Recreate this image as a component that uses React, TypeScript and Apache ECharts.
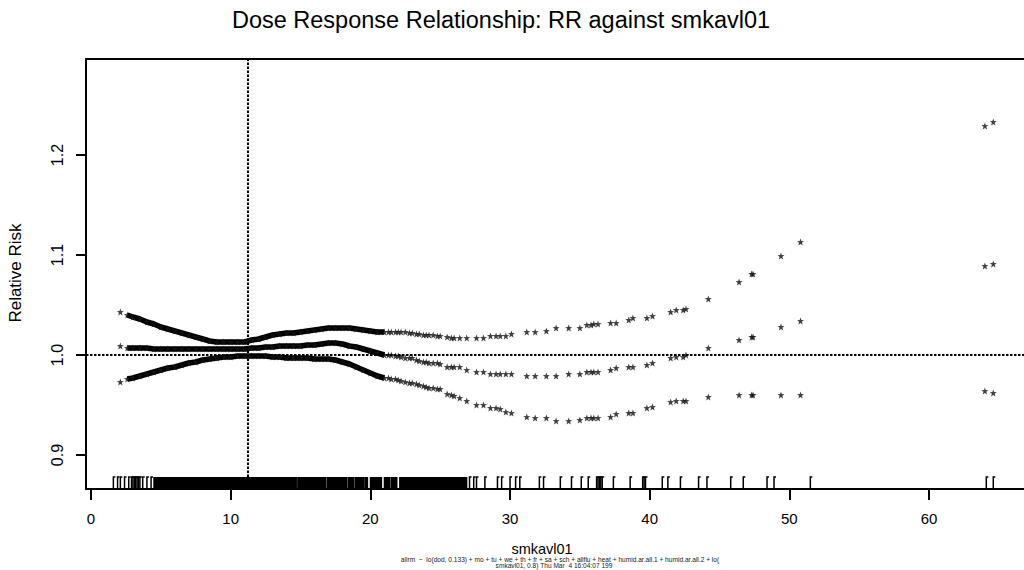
import React, { useEffect, useRef } from "react";
import * as echarts from "echarts";

const TITLE = "Dose Response Relationship: RR against smkavl01";
const X_NAME = "smkavl01";
const Y_NAME = "Relative Risk";
const FOOT1 = "allrm  ~  lo(dod, 0.133) + mo + tu + we + th + fr + sa + sch + allflu + heat + humid.ar.all.1 + humid.ar.all.2 + lo(";
const FOOT2 = "smkavl01, 0.8) Thu Mar  4 16:04:07 199";

const xTicks = [0, 10, 20, 30, 40, 50, 60];
const yTicks = [0.9, 1.0, 1.1, 1.2];
const refX = 11.24;
const refY = 1.0;

const pointX = [2.1, 2.6, 3.0, 3.5, 4.0, 4.5, 5.0, 5.5, 6.0, 6.5, 7.0, 7.5, 8.0, 8.5, 9.0, 9.5, 10.0, 10.5, 11.0, 11.5, 12.0, 12.5, 13.0, 13.5, 14.0, 14.5, 15.0, 15.5, 16.0, 16.5, 17.0, 17.5, 18.0, 18.5, 19.0, 19.5, 20.0, 20.5, 21.0, 21.3, 21.5, 21.8, 22.0, 22.2, 22.5, 22.8, 23.0, 23.3, 23.5, 23.8, 24.0, 24.2, 24.5, 24.8, 25.0, 25.5, 25.8, 26.0, 26.4, 26.9, 27.6, 28.1, 28.6, 29.0, 29.3, 29.7, 30.1, 31.2, 31.8, 32.6, 33.3, 34.2, 35.0, 35.5, 35.8, 36.0, 36.3, 37.2, 37.6, 38.5, 38.8, 39.8, 40.2, 41.5, 41.9, 42.4, 42.6, 44.2, 46.4, 47.3, 47.4, 49.4, 50.8, 64.0, 64.6];

const upperRR = [1.043, 1.040, 1.038, 1.036, 1.033, 1.031, 1.028, 1.026, 1.024, 1.022, 1.020, 1.018, 1.016, 1.014, 1.013, 1.013, 1.013, 1.013, 1.013, 1.015, 1.016, 1.018, 1.020, 1.021, 1.022, 1.022, 1.023, 1.024, 1.025, 1.026, 1.027, 1.027, 1.027, 1.027, 1.026, 1.025, 1.024, 1.023, 1.023, 1.023, 1.023, 1.023, 1.023, 1.023, 1.023, 1.022, 1.022, 1.021, 1.021, 1.020, 1.020, 1.020, 1.020, 1.019, 1.019, 1.018, 1.017, 1.017, 1.017, 1.017, 1.017, 1.017, 1.019, 1.019, 1.019, 1.019, 1.021, 1.023, 1.023, 1.024, 1.027, 1.027, 1.027, 1.030, 1.030, 1.031, 1.031, 1.032, 1.032, 1.035, 1.037, 1.037, 1.039, 1.043, 1.045, 1.045, 1.046, 1.056, 1.073, 1.081, 1.081, 1.099, 1.113, 1.229, 1.233];

const fitRR = [1.009, 1.007, 1.007, 1.007, 1.007, 1.006, 1.006, 1.006, 1.006, 1.006, 1.006, 1.006, 1.006, 1.006, 1.006, 1.006, 1.006, 1.006, 1.006, 1.007, 1.007, 1.008, 1.008, 1.009, 1.009, 1.009, 1.009, 1.010, 1.010, 1.011, 1.012, 1.012, 1.011, 1.009, 1.008, 1.006, 1.004, 1.002, 1.000, 1.000, 1.000, 0.999, 0.999, 0.998, 0.997, 0.997, 0.997, 0.995, 0.994, 0.993, 0.993, 0.992, 0.992, 0.992, 0.991, 0.988, 0.988, 0.988, 0.988, 0.985, 0.983, 0.983, 0.981, 0.981, 0.981, 0.981, 0.981, 0.979, 0.979, 0.979, 0.979, 0.981, 0.981, 0.983, 0.983, 0.983, 0.983, 0.985, 0.987, 0.988, 0.988, 0.990, 0.992, 0.997, 0.998, 0.998, 1.000, 1.007, 1.015, 1.018, 1.018, 1.028, 1.034, 1.089, 1.091];

const lowerRR = [0.973, 0.976, 0.977, 0.979, 0.981, 0.983, 0.985, 0.987, 0.988, 0.990, 0.992, 0.993, 0.995, 0.996, 0.997, 0.998, 0.998, 0.999, 0.999, 0.999, 0.999, 0.999, 0.998, 0.998, 0.997, 0.997, 0.997, 0.997, 0.996, 0.996, 0.996, 0.995, 0.993, 0.991, 0.988, 0.985, 0.982, 0.979, 0.977, 0.977, 0.976, 0.976, 0.975, 0.974, 0.973, 0.972, 0.972, 0.971, 0.970, 0.969, 0.968, 0.967, 0.967, 0.966, 0.966, 0.961, 0.960, 0.959, 0.957, 0.954, 0.950, 0.950, 0.947, 0.947, 0.946, 0.943, 0.942, 0.938, 0.937, 0.937, 0.934, 0.934, 0.935, 0.937, 0.937, 0.937, 0.937, 0.938, 0.941, 0.942, 0.942, 0.947, 0.948, 0.953, 0.954, 0.954, 0.954, 0.958, 0.960, 0.960, 0.960, 0.960, 0.960, 0.964, 0.962];

const rugDense = [4.6, 4.8, 5.0, 5.2, 5.4, 5.6, 5.8, 6.0, 6.2, 6.4, 6.6, 6.8, 7.0, 7.2, 7.4, 7.6, 7.8, 8.0, 8.2, 8.4, 8.6, 8.8, 9.0, 9.2, 9.4, 9.6, 9.8, 10.0, 10.2, 10.4, 10.6, 10.8, 11.0, 11.2, 11.4, 11.6, 11.8, 12.0, 12.2, 12.4, 12.6, 12.8, 13.0, 13.2, 13.4, 13.6, 13.8, 14.0, 14.2, 14.4, 14.6, 14.9, 15.1, 15.3, 15.5, 15.7, 15.9, 16.1, 16.3, 16.5, 16.7, 17.0, 17.2, 17.4, 17.6, 17.8, 18.0, 18.2, 18.5, 18.7, 19.0, 19.2, 19.4, 19.7, 20.1, 20.3, 20.5, 20.7, 21.1, 21.3, 21.6, 21.8, 22.2, 22.4, 22.6, 22.8, 23.0, 23.2, 23.4, 23.6, 23.8, 24.0, 24.2, 24.4, 24.6, 24.8, 25.0, 25.2, 25.4, 25.6, 25.8, 26.0, 26.2, 26.4, 26.6, 26.8];
const rugSparse = [1.6, 1.9, 2.1, 2.4, 2.7, 2.9, 3.0, 3.1, 3.2, 3.3, 3.4, 3.5, 3.7, 4.0, 4.3, 27.1, 27.4, 27.6, 28.2, 29.1, 29.4, 30.0, 30.4, 30.7, 32.1, 32.4, 33.6, 34.4, 35.1, 35.6, 36.2, 36.3, 36.4, 36.5, 36.6, 37.4, 38.6, 39.5, 39.6, 39.7, 40.9, 41.3, 42.2, 43.5, 44.1, 45.8, 46.7, 48.4, 48.9, 51.5, 64.1, 64.6];

const X_MIN = -0.36;
const X_MAX = 66.8;
const Y_MIN = 0.866;
const Y_MAX = 1.296;
const BAND_END = 21.0;
const FONT = "'Liberation Sans', Arial, Helvetica, sans-serif";
const STAR = "path://M0,-10 L2.35,-3.24 L9.51,-3.09 L3.8,1.24 L5.88,8.09 L0,4 L-5.88,8.09 L-3.8,1.24 L-9.51,-3.09 L-2.35,-3.24 Z";

function pairs(ys: number[]) {
  return pointX.map((x, i) => [x, ys[i]]);
}
function band(ys: number[]) {
  return pointX.map((x, i) => [x, ys[i]]).filter((p) => p[0] >= 2.6 && p[0] <= BAND_END);
}

function rugSeries(values: number[], width: number, flag: boolean) {
  return {
    type: "custom",
    silent: true,
    data: values.map((v) => [v, Y_MIN]),
    encode: { x: 0, y: 1 },
    renderItem: (_params: any, api: any) => {
      const p = api.coord([api.value(0), Y_MIN]);
      const pts = flag
        ? [[p[0], p[1]], [p[0], p[1] - 12], [p[0] + 2, p[1] - 12]]
        : [[p[0], p[1]], [p[0], p[1] - 12]];
      return {
        type: "polyline",
        shape: { points: pts },
        style: { stroke: "#000", lineWidth: width, fill: null },
      };
    },
    z: 3,
  };
}

export default function App() {
  const ref = useRef<HTMLDivElement>(null);
  useEffect(() => {
    if (!ref.current) return;
    const chart = echarts.init(ref.current, undefined, { renderer: "svg" });
    const starSeries = (ys: number[]) => ({
      type: "scatter",
      data: pairs(ys),
      symbol: STAR,
      symbolSize: 7,
      itemStyle: { color: "#111" },
      z: 4,
    });
    const bandSeries = (ys: number[]) => ({
      type: "line",
      data: band(ys),
      showSymbol: false,
      symbol: "none",
      lineStyle: { color: "#000", width: 5.5 },
      z: 4,
    });
    chart.setOption({
      animation: false,
      backgroundColor: "#fff",
      textStyle: { fontFamily: FONT },
      grid: { left: 86, top: 59, right: 0, bottom: 81, containLabel: false },
      xAxis: [
        {
          type: "value",
          min: X_MIN,
          max: X_MAX,
          position: "bottom",
          axisLine: { show: true, onZero: false, lineStyle: { color: "#000", width: 2 } },
          axisTick: { show: true, length: 11, lineStyle: { color: "#000", width: 2 }, customValues: xTicks },
          axisLabel: { show: true, customValues: xTicks, fontSize: 15, color: "#000", fontFamily: FONT, margin: 22 },
          splitLine: { show: false },
        },
        {
          type: "value",
          min: X_MIN,
          max: X_MAX,
          position: "top",
          axisLine: { show: true, onZero: false, lineStyle: { color: "#000", width: 2 } },
          axisTick: { show: false },
          axisLabel: { show: false },
          splitLine: { show: false },
        },
      ],
      yAxis: {
        type: "value",
        min: Y_MIN,
        max: Y_MAX,
        axisLine: { show: true, onZero: false, lineStyle: { color: "#000", width: 2 } },
        axisTick: { show: true, length: 10, lineStyle: { color: "#000", width: 2 }, customValues: yTicks },
        axisLabel: {
          show: true,
          customValues: yTicks,
          rotate: 90,
          fontSize: 16,
          color: "#000",
          fontFamily: FONT,
          margin: 21,
          formatter: (v: number) => v.toFixed(1),
        },
        splitLine: { show: false },
      },
      graphic: [
        { type: "text", x: 501, y: 20, style: { text: TITLE, fontSize: 23.5, fontFamily: FONT, fill: "#000", align: "center", verticalAlign: "middle" } },
        { type: "text", x: 542, y: 549, style: { text: X_NAME, fontSize: 14.5, fontFamily: FONT, fill: "#000", align: "center", verticalAlign: "middle" } },
        { type: "text", x: 15, y: 273, rotation: Math.PI / 2, style: { text: Y_NAME, fontSize: 17, fontFamily: FONT, fill: "#000", align: "center", verticalAlign: "middle" } },
        { type: "text", x: 560, y: 559.5, style: { text: FOOT1, fontSize: 6.6, fontFamily: FONT, fill: "#222", align: "center", verticalAlign: "middle" } },
        { type: "text", x: 554, y: 565.5, style: { text: FOOT2, fontSize: 6.6, fontFamily: FONT, fill: "#222", align: "center", verticalAlign: "middle" } },
      ],
      series: [
        {
          type: "line",
          data: [],
          markLine: {
            silent: true,
            symbol: "none",
            label: { show: false },
            lineStyle: { color: "#000", width: 2, type: [2.5, 1.5] },
            data: [{ xAxis: refX }, { yAxis: refY }],
          },
        },
        bandSeries(upperRR),
        bandSeries(fitRR),
        bandSeries(lowerRR),
        starSeries(upperRR),
        starSeries(fitRR),
        starSeries(lowerRR),
        rugSeries(rugDense, 4, false),
        rugSeries(rugSparse, 1.5, true),
      ],
    });
    return () => chart.dispose();
  }, []);
  return (
    <div
      ref={ref}
      style={{ position: "fixed", left: 0, top: 0, width: 1024, height: 570, background: "#fff" }}
    />
  );
}
